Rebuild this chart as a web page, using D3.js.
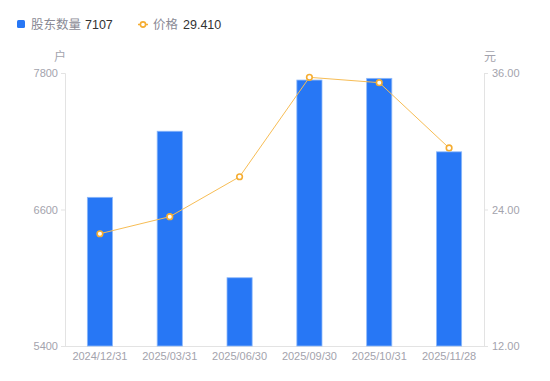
<!DOCTYPE html>
<html><head><meta charset="utf-8">
<script src="https://cdn.jsdelivr.net/npm/d3@7"></script>
<style>body{margin:0;background:#fff;}svg{display:block;font-family:"Noto Sans CJK SC","Noto Sans",sans-serif;}</style>
</head><body>
<svg id="c" width="550" height="381"></svg>
<script>
const categories = ["2024/12/31","2025/03/31","2025/06/30","2025/09/30","2025/10/31","2025/11/28"];
const holders = [6707, 7288, 6000, 7738, 7753, 7107];
const prices = [21.87, 23.37, 26.88, 35.62, 35.15, 29.41];
const leftTicks = [5400, 6600, 7800];
const rightTicks = [12, 24, 36];

const svg = d3.select("#c");
const L = 65, R = 484, T = 73, B = 346;
const x = d3.scaleBand().domain(categories).range([L, R]).paddingInner(0.64).paddingOuter(0.32);
const yL = d3.scaleLinear().domain([5400, 7800]).range([B, T]);
const yR = d3.scaleLinear().domain([12, 36]).range([B, T]);
const axisColor = "#e3e3e3", labelColor = "#a3a3ad";

// axes
const gl = svg.append("g").attr("transform", `translate(${L},0)`)
  .call(d3.axisLeft(yL).tickValues(leftTicks).tickSize(4).tickPadding(3).tickFormat(d3.format("d")));
const gr = svg.append("g").attr("transform", `translate(${R},0)`)
  .call(d3.axisRight(yR).tickValues(rightTicks).tickSize(4).tickPadding(4).tickFormat(d3.format(".2f")));
const gx = svg.append("g").attr("transform", `translate(0,${B})`)
  .call(d3.axisBottom(x).tickSize(0).tickPadding(6));
[gl, gr, gx].forEach(g => {
  g.selectAll("path").attr("stroke", axisColor);
  g.selectAll("line").attr("stroke", axisColor);
  g.selectAll("text").attr("fill", labelColor).style("font-size", "11px").style("font-family", "Liberation Sans, Arial, sans-serif");
});
gx.select("path").attr("d", `M${L},0.5H${R}`);

// units
svg.append("text").attr("x", 60).attr("y", 61).attr("text-anchor", "middle").attr("fill", labelColor).style("font-size", "12px").text("户");
svg.append("text").attr("x", 490).attr("y", 61).attr("text-anchor", "middle").attr("fill", labelColor).style("font-size", "12px").text("元");

// bars
svg.append("g").selectAll("rect").data(holders).join("rect")
  .attr("x", (d, i) => x(categories[i]))
  .attr("y", d => yL(d))
  .attr("width", x.bandwidth())
  .attr("height", d => B - yL(d))
  .attr("fill", "#2777f5")
  .attr("stroke", "#8db8fa").attr("stroke-width", 0.8);

// line
const cx = i => x(categories[i]) + x.bandwidth() / 2;
svg.append("path").datum(prices)
  .attr("fill", "none").attr("stroke", "#f7bd55").attr("stroke-width", 1)
  .attr("d", d3.line().x((d, i) => cx(i)).y(d => yR(d)));
svg.append("g").selectAll("circle").data(prices).join("circle")
  .attr("cx", (d, i) => cx(i)).attr("cy", d => yR(d)).attr("r", 2.8)
  .attr("fill", "#fff").attr("stroke", "#f5ad32").attr("stroke-width", 1.6);

// legend
const lg = svg.append("g").style("font-size", "12.5px");
lg.append("rect").attr("x", 17).attr("y", 20).attr("width", 8).attr("height", 8).attr("rx", 1.5).attr("fill", "#2777f5");
lg.append("text").attr("x", 31).attr("y", 29).attr("fill", "#8a8a95").text("股东数量");
lg.append("text").attr("x", 85).attr("y", 29).attr("fill", "#333").style("font-family", "Liberation Sans, Arial, sans-serif").text(String(holders[holders.length - 1]));
lg.append("line").attr("x1", 138).attr("x2", 148).attr("y1", 24.5).attr("y2", 24.5).attr("stroke", "#f5ad32").attr("stroke-width", 1.5);
lg.append("circle").attr("cx", 143).attr("cy", 24.5).attr("r", 2.6).attr("fill", "#fff").attr("stroke", "#f5ad32").attr("stroke-width", 1.6);
lg.append("text").attr("x", 153).attr("y", 29).attr("fill", "#8a8a95").text("价格");
lg.append("text").attr("x", 183).attr("y", 29).attr("fill", "#333").style("font-family", "Liberation Sans, Arial, sans-serif").text(prices[prices.length - 1].toFixed(3));
</script>
</body></html>
